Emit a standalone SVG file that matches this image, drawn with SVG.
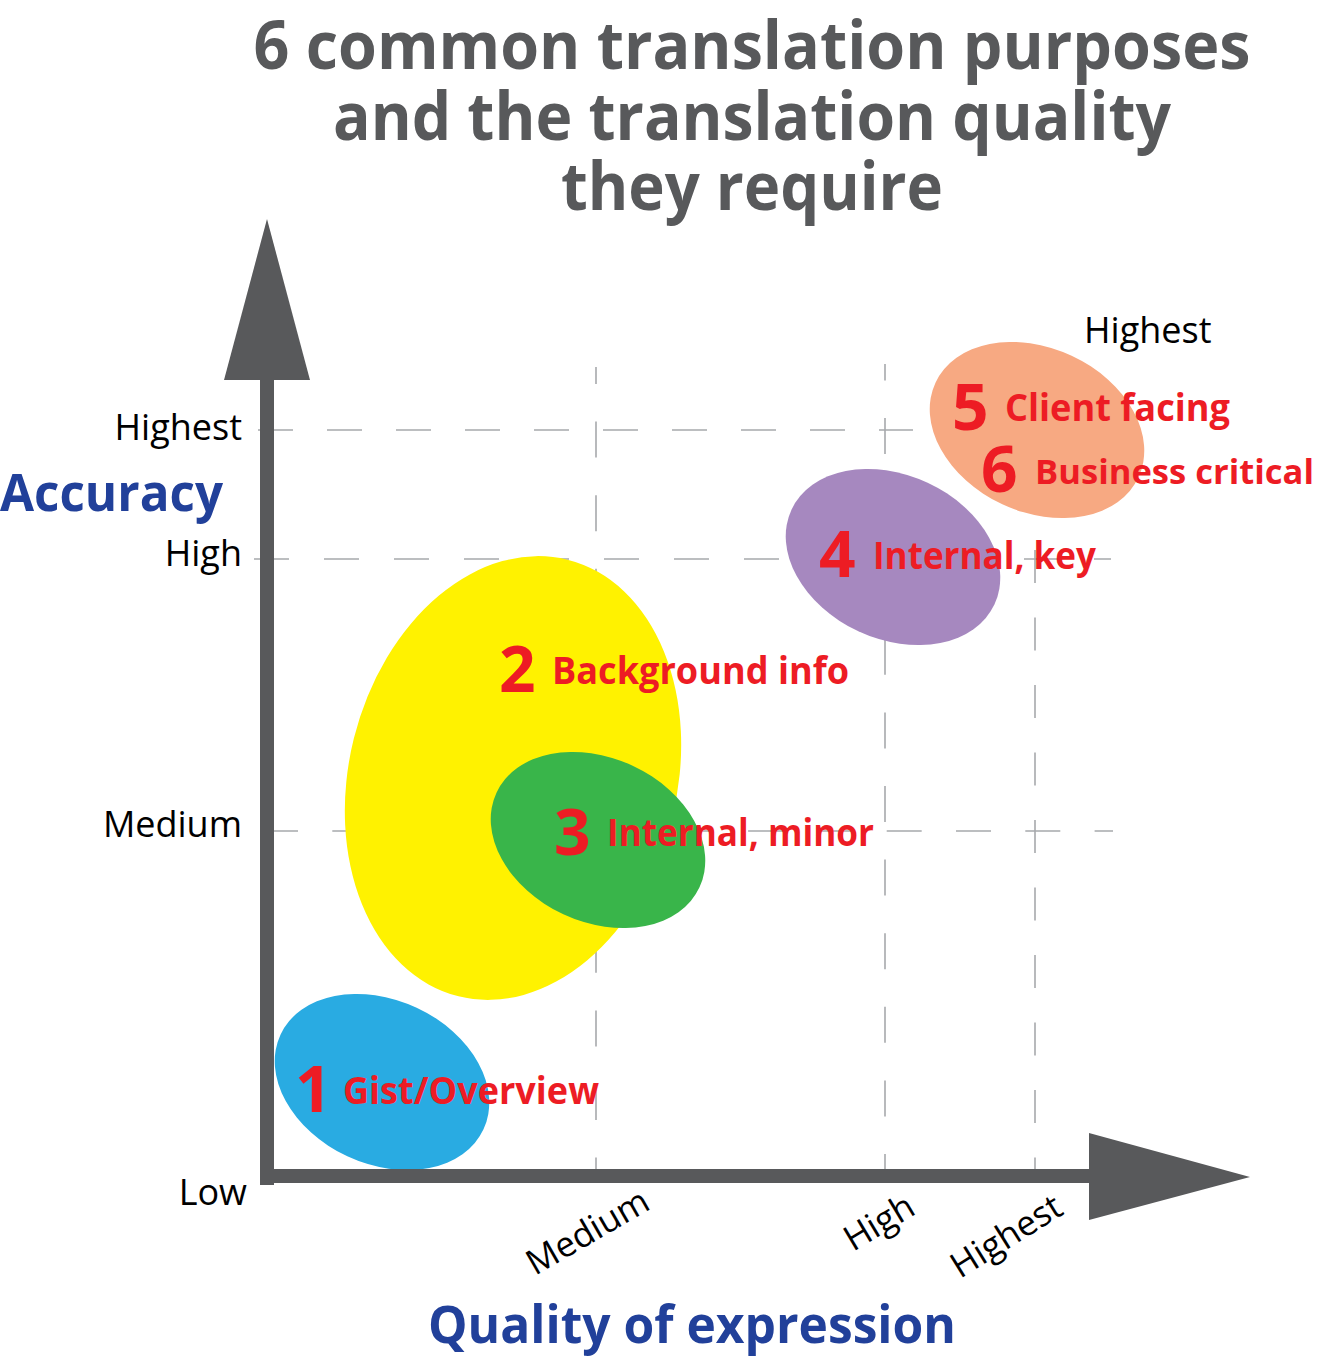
<svg xmlns="http://www.w3.org/2000/svg" width="1320" height="1358" viewBox="0 0 1320 1358">
<style>
.title{font-family:"Open Sans","Liberation Sans",sans-serif;font-weight:700;font-size:66px;fill:#58595b;text-anchor:middle}
.grid{stroke:#a7a9ac;stroke-width:1.6;fill:none}
.axis{fill:#58595b}
.tick{font-family:"Open Sans","Liberation Sans",sans-serif;font-size:36px;fill:#000}
.xtick{font-family:"Open Sans","Liberation Sans",sans-serif;font-size:35px;fill:#000}
.axtitle{font-family:"Open Sans","Liberation Sans",sans-serif;font-weight:700;font-size:52px;fill:#21409a}
.num{font-family:"Open Sans","Liberation Sans",sans-serif;font-weight:700;font-size:64px;fill:#ed1c24}
.lbl{font-family:"Open Sans","Liberation Sans",sans-serif;font-weight:700;font-size:37px;fill:#ed1c24}
</style>
<rect width="1320" height="1358" fill="#fff"/>
<g id="title">
<text class="title" x="752" y="69" textLength="997" lengthAdjust="spacingAndGlyphs">6 common translation purposes</text>
<text class="title" x="752" y="140" textLength="838" lengthAdjust="spacingAndGlyphs">and the translation quality</text>
<text class="title" x="752" y="210" textLength="382" lengthAdjust="spacingAndGlyphs">they require</text>
</g>
<g id="connectors">
<line class="grid" x1="258" y1="430" x2="913" y2="430" stroke-dasharray="35 34"/>
<line class="grid" x1="254" y1="559" x2="1111" y2="559" stroke-dasharray="35 35"/>
<line class="grid" x1="263" y1="831" x2="1113" y2="831" stroke-dasharray="35 34.3"/>
<line class="grid" x1="596" y1="367" x2="596" y2="1170" stroke-dasharray="36 37.6" stroke-dashoffset="19"/>
<line class="grid" x1="885" y1="364" x2="885" y2="1170" stroke-dasharray="36 37.6" stroke-dashoffset="19.6"/>
<line class="grid" x1="1035" y1="550" x2="1035" y2="1170" stroke-dasharray="33 34.5"/>
</g>
<g id="node-1">
<ellipse cx="382" cy="1082" rx="112" ry="82" transform="rotate(25 382 1082)" fill="#29abe2"/>
</g>
<g id="node-2">
<ellipse cx="513" cy="778" rx="164" ry="225" transform="rotate(14 513 778)" fill="#fff200"/>
</g>
<g id="node-3">
<ellipse cx="598" cy="840" rx="112" ry="82" transform="rotate(25 598 840)" fill="#39b54a"/>
</g>
<g id="node-4">
<ellipse cx="893" cy="557" rx="112" ry="82" transform="rotate(25 893 557)" fill="#a688bf"/>
</g>
<g id="node-5">
<ellipse cx="1037" cy="430" rx="112" ry="82" transform="rotate(25 1037 430)" fill="#f7a982"/>
</g>
<g id="axes">
<rect class="axis" x="260" y="378" width="14" height="807"/>
<polygon class="axis" points="267,219 310,380 224,380"/>
<rect class="axis" x="260" y="1169" width="831" height="14"/>
<polygon class="axis" points="1089,1133 1250,1177 1089,1220"/>
</g>
<g id="labels">
<text class="num" x="295" y="1112">1</text>
<text class="lbl" x="343" y="1104" textLength="256" lengthAdjust="spacingAndGlyphs">Gist/Overview</text>
<text class="num" x="499" y="692">2</text>
<text class="lbl" x="552" y="684" textLength="297" lengthAdjust="spacingAndGlyphs">Background info</text>
<text class="num" x="554" y="855">3</text>
<text class="lbl" x="607" y="846" textLength="267" lengthAdjust="spacingAndGlyphs">Internal, minor</text>
<text class="num" x="819" y="577">4</text>
<text class="lbl" x="873" y="569" textLength="223" lengthAdjust="spacingAndGlyphs">Internal, key</text>
<text class="num" x="952" y="430">5</text>
<text class="lbl" x="1005" y="421" textLength="225" lengthAdjust="spacingAndGlyphs">Client facing</text>
<text class="num" x="981" y="492">6</text>
<text class="lbl" x="1035" y="484" style="font-size:34px" textLength="279" lengthAdjust="spacingAndGlyphs">Business critical</text>
</g>
<g id="axis-labels">
<text class="tick" x="242" y="440" text-anchor="end">Highest</text>
<text class="axtitle" x="0" y="511" textLength="223" lengthAdjust="spacingAndGlyphs">Accuracy</text>
<text class="tick" x="242" y="566" text-anchor="end">High</text>
<text class="tick" x="242" y="837" text-anchor="end">Medium</text>
<text class="tick" x="247" y="1205" text-anchor="end">Low</text>
<text class="tick" x="1084" y="343">Highest</text>
<text class="xtick" transform="translate(535 1276) rotate(-30)">Medium</text>
<text class="xtick" transform="translate(853 1252) rotate(-31)">High</text>
<text class="xtick" transform="translate(960 1279) rotate(-32)">Highest</text>
<text class="axtitle" x="428" y="1343" textLength="528" lengthAdjust="spacingAndGlyphs">Quality of expression</text>
</g>
</svg>
